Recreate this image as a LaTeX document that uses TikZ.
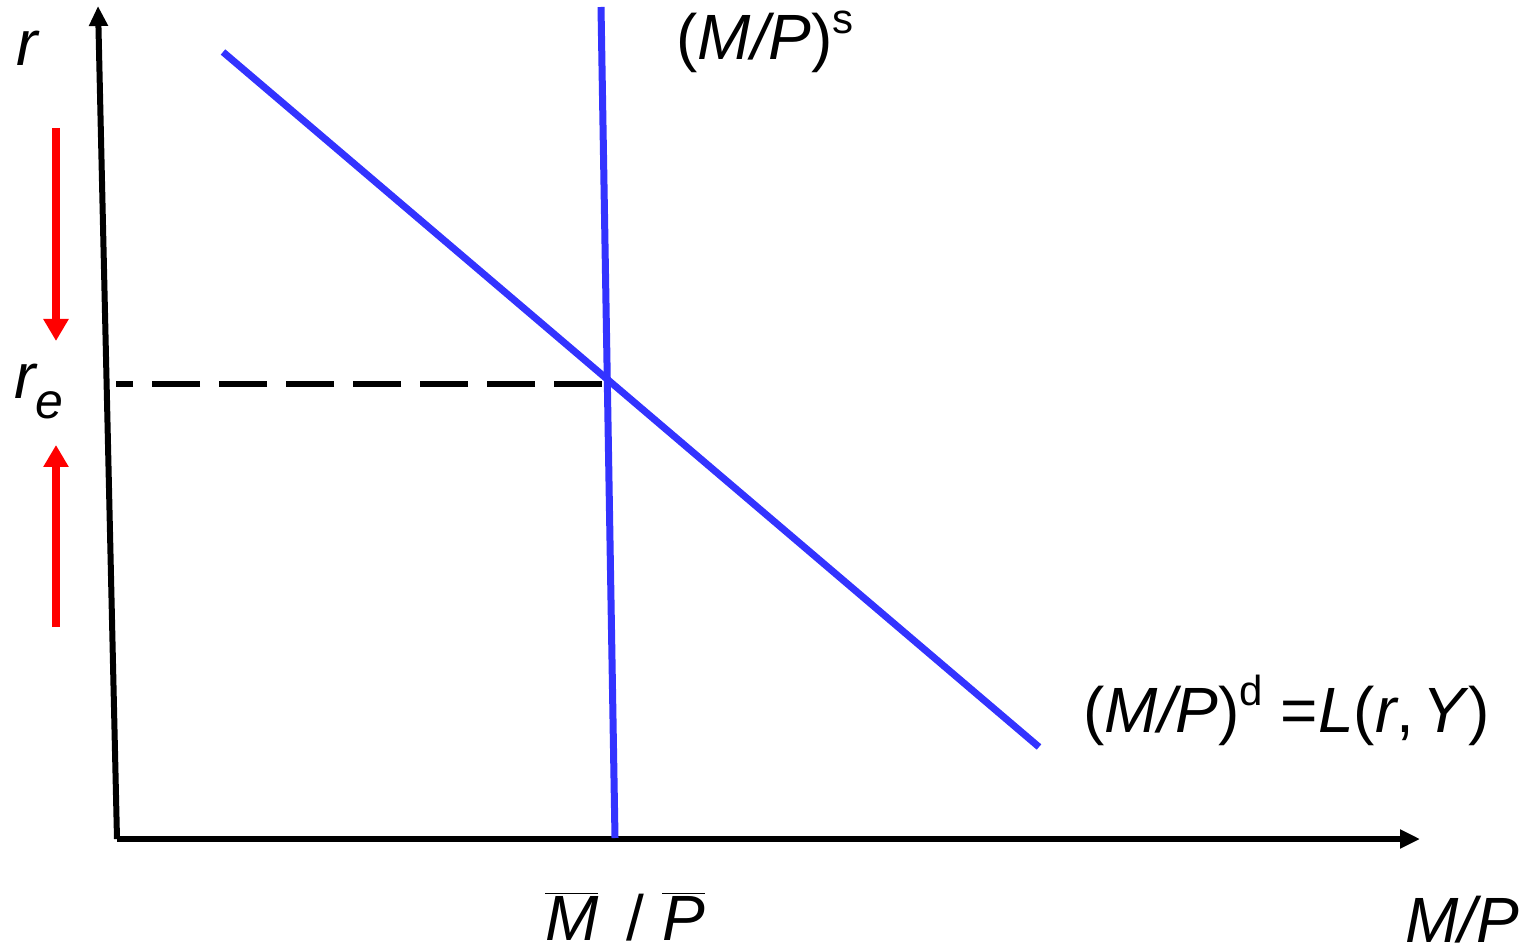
\documentclass[tikz,border=0pt]{standalone}
\usepackage{fontspec}
\setmainfont{Liberation Sans}
\usetikzlibrary{arrows.meta}
\begin{document}
\begin{tikzpicture}[x=0.5pt,y=-0.5pt,
  axis/.style={line width=3pt,-{Triangle[length=10pt,width=9pt]}},
  curve/.style={line width=3.5pt,draw={rgb,255:red,51;green,51;blue,255}},
  redarr/.style={line width=4pt,red,-{Triangle[length=11pt,width=12pt]}},
  lbl/.style={inner sep=0pt,font=\fontsize{32}{38}\selectfont}]
\useasboundingbox (0,0) rectangle (1530,951);
\coordinate (O) at (117,839);
\coordinate (Ytop) at (98,6);
\coordinate (Xend) at (1420,839);
\draw[axis] (O) -- (Ytop);
\draw[axis] (O) -- (Xend);
\coordinate (S1) at (601,7);
\coordinate (S2) at (615,838);
\coordinate (D1) at (223,52);
\coordinate (D2) at (1039,747);
\draw[curve] (S1) -- (S2);
\draw[curve] (D1) -- (D2);
\coordinate (E) at (606,384);
\coordinate (EL) at (116,384);
\draw[line width=3pt,dash pattern=on 24pt off 9.5pt] (E) ++(-4,0) coordinate (E0) (E0) -- (EL);
\coordinate (RA1) at (56,128);
\coordinate (RA2) at (56,341);
\coordinate (RB1) at (56,627);
\coordinate (RB2) at (56,445);
\draw[redarr] (RA1) -- (RA2);
\draw[redarr] (RB1) -- (RB2);
\node[lbl] (r) at (27,48) {\itshape r};
\node[lbl,anchor=base west] (re) at (14,399) {\itshape r\raisebox{-0.3em}{\fontsize{25}{30}\selectfont e}};
\node[lbl,anchor=base] (mbar) at (625,940) {$\overline{\mbox{\itshape M}}$\, / $\overline{\mbox{\itshape P}}$};
\node[lbl,anchor=base west] (mp) at (1405,942) {\itshape M/P};
\node[lbl,anchor=base west] (ms) at (676,60) {(\textit{M/P})\raisebox{0.42em}{\fontsize{21}{24}\selectfont s}};
\node[lbl,anchor=base west] (md) at (1083,732) {(\textit{M/P})\raisebox{0.42em}{\fontsize{21}{24}\selectfont d} =\textit{L}(\textit{r},\kern0.12em\textit{Y})};
\end{tikzpicture}
\end{document}
